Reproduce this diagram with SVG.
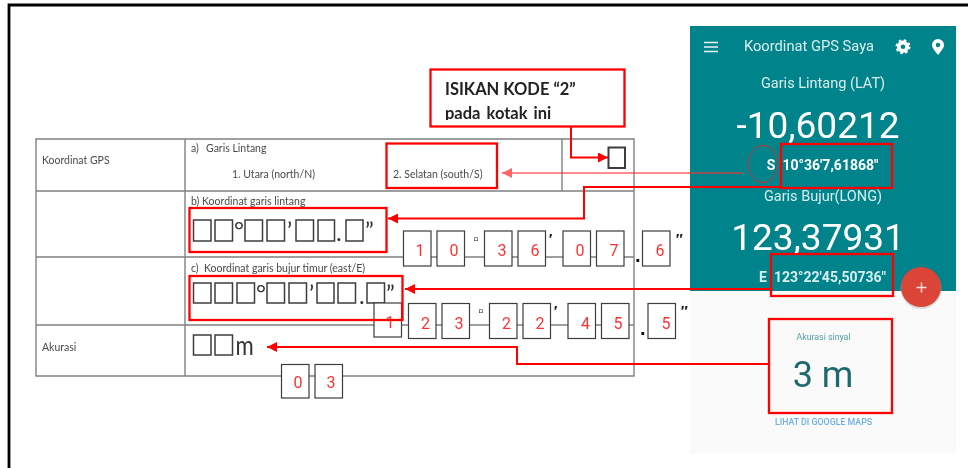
<svg xmlns="http://www.w3.org/2000/svg" width="968" height="468" viewBox="0 0 968 468">
<style>
.doc{font-family:Lato,"Open Sans",sans-serif;fill:#4a4a4a}
.t{font-size:10.5px}
.tl{fill:none;stroke:#808080;stroke-width:1.4}
.sq{fill:none;stroke:#3c3c3c;stroke-width:1.5}
.big{font-family:Lato,sans-serif;fill:#333;font-size:24px}
.dg{fill:#fff;stroke:#3c3c3c;stroke-width:1.2}
.dt{font-family:Roboto,sans-serif;font-size:16px;fill:#f33;text-anchor:middle}
.mk{font-family:"Liberation Sans",sans-serif;font-weight:bold;font-size:15px;fill:#222}
.dot{font-family:"Liberation Sans",sans-serif;font-weight:bold;font-size:20px;fill:#111}
.rb{fill:none;stroke:#f00;stroke-width:2.300}
.ln{fill:none;stroke:#f00;stroke-width:2}
.ph{font-family:Roboto,sans-serif;fill:#d8eeee;text-anchor:middle}
.co{font-family:Lato,sans-serif;font-weight:bold;font-size:16.500px;fill:#222}
</style>
<defs>
<marker id="ah" markerUnits="userSpaceOnUse" markerWidth="11" markerHeight="10" refX="10" refY="5" orient="auto"><path d="M0 0L10 5L0 10Z" fill="#f00"/></marker>
<marker id="ahp" markerUnits="userSpaceOnUse" markerWidth="11" markerHeight="10" refX="10" refY="5" orient="auto"><path d="M0 0L10 5L0 10Z" fill="#f33"/></marker>
<clipPath id="cut"><rect x="431" y="70" width="193" height="50"/></clipPath>
<filter id="soft" filterUnits="userSpaceOnUse" x="0" y="0" width="968" height="468"><feGaussianBlur stdDeviation="0.35"/></filter>
</defs>
<rect width="968" height="468" fill="#fff"/>
<g filter="url(#soft)">
<path d="M968 5H9V468" fill="none" stroke="#000" stroke-width="2.800"/>
<g id="table">
<path class="tl" d="M36 139H634V376H36ZM36 191H634M36 257H634M36 325H634M185 139V376M562 139V191"/>
<text class="doc t" x="42" y="164">Koordinat GPS</text>
<text class="doc t" x="191" y="152">a)</text><text class="doc t" x="206" y="152">Garis Lintang</text>
<text class="doc t" x="232" y="178">1. Utara (north/N)</text>
<text class="doc t" x="393" y="178">2. Selatan (south/S)</text>
<text class="doc t" x="191" y="205">b) Koordinat garis lintang</text>
<text class="doc t" x="191" y="272">c)</text><text class="doc t" x="204" y="272">Koordinat garis bujur timur (east/E)</text>
<text class="doc t" x="42" y="351">Akurasi</text>
</g>
<g id="field-lat">
<rect class="sq" x="193.500" y="220" width="17.500" height="21"/><rect class="sq" x="215" y="220" width="17.500" height="21"/>
<rect class="sq" x="245" y="220" width="17.500" height="21"/><rect class="sq" x="267" y="220" width="17.500" height="21"/>
<rect class="sq" x="296" y="220" width="17.500" height="21"/><rect class="sq" x="318" y="220" width="16.500" height="21"/>
<rect class="sq" x="346" y="220" width="17" height="21"/>
<text class="big" x="234" y="239">°</text><text class="big" x="287" y="239">’</text><text class="big" x="336" y="241">.</text><text class="big" x="365" y="239">”</text>
</g>
<g id="field-long">
<rect class="sq" x="193.500" y="283" width="17.500" height="20"/><rect class="sq" x="215" y="283" width="17.500" height="20"/><rect class="sq" x="237" y="283" width="17.500" height="20"/>
<rect class="sq" x="267" y="283" width="17.500" height="20"/><rect class="sq" x="289" y="283" width="17.500" height="20"/>
<rect class="sq" x="317" y="283" width="17" height="20"/><rect class="sq" x="338" y="283" width="17.500" height="20"/>
<rect class="sq" x="367" y="283" width="17.500" height="20"/>
<text class="big" x="256" y="302">°</text><text class="big" x="309" y="302">’</text><text class="big" x="359" y="304">.</text><text class="big" x="386" y="302">”</text>
</g>
<g id="field-acc">
<rect class="sq" x="193.500" y="335" width="17.500" height="20"/><rect class="sq" x="215" y="335" width="17.500" height="20"/>
<text class="big" transform="translate(235.500 355) scale(.82 1)" style="font-size:27px">m</text>
</g>
<g id="field-ns"><rect class="sq" x="608.500" y="147.500" width="16.500" height="20.500" style="stroke-width:2"/></g>
<g id="phone">
<rect x="690" y="26" width="266" height="428" fill="#fafafa"/>
<rect x="690" y="26" width="266" height="265" fill="#00838a"/>
<path d="M704 42.500H718M704 47H718M704 51.500H718" stroke="#e6f3f4" stroke-width="1.700"/>
<text class="ph" x="809" y="51" font-size="14.700">Koordinat GPS Saya</text>
<circle cx="903" cy="46.700" r="4.200" fill="none" stroke="#fff" stroke-width="3.800"/>
<circle cx="903" cy="46.700" r="6.500" fill="none" stroke="#fff" stroke-width="2" stroke-dasharray="2.600 2.500"/>
<path d="M938 55C934 50 932 47.500 932 45A6 6 0 0 1 944 45C944 47.500 942 50 938 55Z" fill="#fff"/><circle cx="938" cy="45" r="2.200" fill="#00838a"/>
<text class="ph" x="823" y="88" font-size="14.500">Garis Lintang (LAT)</text>
<text class="ph" x="818" y="138" font-size="37" style="fill:#fff">-10,60212</text>
<text class="ph" x="771" y="170" font-size="14" font-weight="bold" style="fill:#fff">S</text>
<text class="ph" x="830.500" y="170" font-size="14" font-weight="bold" style="fill:#fff">10°36'7,61868"</text>
<text class="ph" x="823" y="201" font-size="14.500">Garis Bujur(LONG)</text>
<text class="ph" x="818" y="250" font-size="37" style="fill:#fff">123,37931</text>
<text class="ph" x="763" y="282" font-size="14" font-weight="bold">E</text>
<text class="ph" x="830" y="282" font-size="14" font-weight="bold">123°22'45,50736"</text>
<circle cx="921" cy="288.500" r="20.500" fill="#bbb" opacity=".5"/>
<circle cx="921" cy="287" r="20" fill="#db4437"/>
<path d="M916.500 287.500H926.500M921.500 282.500V292.500" stroke="#f5e0dd" stroke-width="1.500"/>
<text class="ph" x="823.500" y="340" font-size="8.800" style="fill:#4f9ea6">Akurasi sinyal</text>
<text class="ph" x="823" y="387" font-size="36" style="fill:#1f6a70">3 m</text>
<text class="ph" x="823.500" y="425" font-size="8.800" font-weight="500" style="fill:#6fb0e2">LIHAT DI GOOGLE MAPS</text>
</g>
<g id="connectors">
<path d="M743 173H502" fill="none" stroke="#f33" stroke-width="1.500" opacity=".75" marker-end="url(#ahp)"/>
<path class="ln" d="M571 127V157.500H608" marker-end="url(#ah)"/>
<path class="ln" d="M781 187H584V218.500H388" marker-end="url(#ah)"/>
<path class="ln" d="M771 289H405" marker-end="url(#ah)"/>
<path class="ln" d="M769 364H517V347H267" marker-end="url(#ah)"/>
</g>
<g id="digits-lat">
<rect class="dg" x="403.500" y="231" width="27.500" height="35"/><rect class="dg" x="437" y="231" width="27.500" height="35"/><rect class="dg" x="484.500" y="231" width="27.500" height="35"/><rect class="dg" x="518" y="231" width="27.500" height="35"/><rect class="dg" x="563" y="231" width="27.500" height="35"/><rect class="dg" x="596.500" y="231" width="27.500" height="35"/><rect class="dg" x="642.500" y="231" width="27.500" height="35"/>
<text class="dt" x="420" y="256">1</text><text class="dt" x="454" y="256">0</text><text class="dt" x="502" y="256">3</text><text class="dt" x="535" y="256">6</text><text class="dt" x="580" y="256">0</text><text class="dt" x="614" y="256">7</text><text class="dt" x="660" y="256">6</text>
<text class="mk" x="473" y="244">▫</text><text class="mk" x="548" y="244" font-style="italic">′</text><text class="dot" x="635" y="262">.</text><text class="mk" x="675" y="244" font-style="italic">′′</text>
</g>
<g id="digits-long">
<rect class="dg" x="374" y="303" width="27.500" height="34"/><rect class="dg" x="408.500" y="303.500" width="27.500" height="35"/><rect class="dg" x="442" y="303.500" width="27.500" height="35"/><rect class="dg" x="489.500" y="303.500" width="27.500" height="35"/><rect class="dg" x="523" y="303.500" width="27.500" height="35"/><rect class="dg" x="568" y="303.500" width="27.500" height="35"/><rect class="dg" x="601.500" y="303.500" width="27.500" height="35"/><rect class="dg" x="648" y="303.500" width="27.500" height="35"/>
<text class="dt" x="390" y="328">1</text><text class="dt" x="425.500" y="329">2</text><text class="dt" x="459" y="329">3</text><text class="dt" x="506.500" y="329">2</text><text class="dt" x="540" y="329">2</text><text class="dt" x="585.500" y="329">4</text><text class="dt" x="618" y="329">5</text><text class="dt" x="666" y="329">5</text>
<text class="mk" x="478" y="316">▫</text><text class="mk" x="553" y="316" font-style="italic">′</text><text class="dot" x="640" y="335">.</text><text class="mk" x="680" y="316" font-style="italic">′′</text>
</g>
<g id="digits-acc">
<rect class="dg" x="281.500" y="364.500" width="27.500" height="33.500"/><rect class="dg" x="315" y="364.500" width="27.500" height="33.500"/>
<text class="dt" x="298" y="388">0</text><text class="dt" x="331" y="388">3</text>
</g>
<g id="callout">
<rect x="430.500" y="69.500" width="194" height="57" fill="#fff" stroke="#f00" stroke-width="2.300"/>
<text class="co" x="445" y="95">ISIKAN KODE “2”</text>
<text class="co" x="445" y="119" word-spacing="2" clip-path="url(#cut)">pada kotak ini</text>
</g>
<g id="highlights">
<rect class="rb" x="386.500" y="143.500" width="110.500" height="44.500"/>
<rect class="rb" x="189.500" y="208" width="197" height="44"/>
<rect class="rb" x="189.500" y="276" width="213" height="44"/>
<rect class="rb" x="781" y="144" width="111" height="44"/>
<rect class="rb" x="771" y="254" width="122" height="42"/>
<rect class="rb" x="769" y="319" width="123" height="94"/>
<ellipse cx="763" cy="164" rx="15" ry="18.500" fill="none" stroke="#d32f2f" stroke-width="1"/>
</g>
</g>
</svg>
